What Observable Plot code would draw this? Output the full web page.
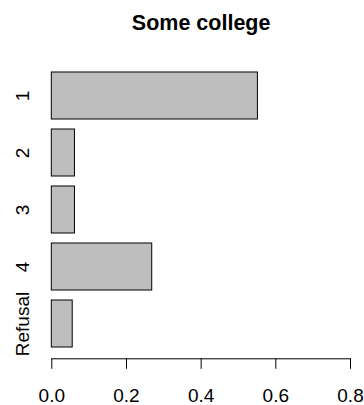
<!DOCTYPE html>
<html>
<head>
<meta charset="utf-8">
<script src="https://cdn.jsdelivr.net/npm/d3@7"></script>
<script src="https://cdn.jsdelivr.net/npm/@observablehq/plot@0.6"></script>
<style>
  html, body { margin: 0; padding: 0; background: #fff; }
  svg { display: block; }
</style>
</head>
<body>
<div id="chart"></div>
<script>
const title = "Some college";
const categories = ["1", "2", "3", "4", "Refusal"];
const proportions = [0.552, 0.062, 0.062, 0.269, 0.056];
const xTicks = [0, 0.2, 0.4, 0.6, 0.8];

const data = categories.map((c, i) => ({category: c, value: proportions[i]}));
const font = "'Liberation Sans', Arial, Helvetica, sans-serif";

const chart = Plot.plot({
  width: 364,
  height: 405,
  marginLeft: 51.3,
  marginRight: 14,
  marginTop: 71.3,
  marginBottom: 46.7,
  style: {fontFamily: font, fontSize: "19px", background: "#fff", color: "#000"},
  x: {domain: [0, 0.8], range: [51.3, 350]},
  y: {domain: categories, range: [71.3, 348], paddingInner: 0.1667, paddingOuter: 0, axis: null},
  marks: [
    Plot.barX(data, {x: "value", y: "category", fill: "#bebebe", stroke: "#000", strokeWidth: 1}),
    Plot.frame({anchor: "bottom", stroke: "#000", strokeWidth: 1}),
    Plot.axisX(xTicks, {tickSize: 10.5, tickPadding: 19.5, tickFormat: d3.format(".1f"), fontSize: 19, label: null, stroke: "#000"}),
    Plot.text(data, {y: "category", text: "category", frameAnchor: "left", dx: -23, rotate: -90, textAnchor: "middle", lineAnchor: "bottom", fontSize: 19, fill: "#000"}),
    Plot.text([title], {frameAnchor: "top", dy: -42.3, lineAnchor: "bottom", fontSize: 21.5, fontWeight: "bold", fill: "#000"})
  ]
});
document.getElementById("chart").appendChild(chart);
</script>
</body>
</html>
